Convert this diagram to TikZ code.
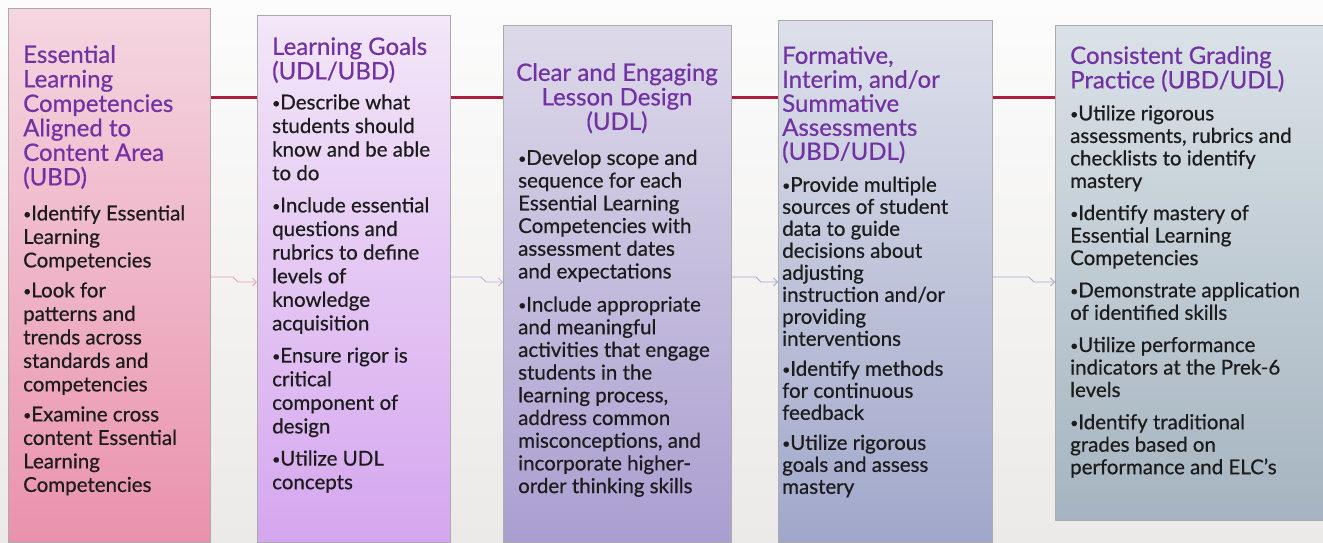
\documentclass[tikz,border=0pt]{standalone}
\usepackage{fontspec}
\setmainfont{Lato}[UprightFeatures={FakeBold=0.6}]
\usetikzlibrary{arrows.meta, positioning}

\definecolor{bgtop}{HTML}{FCFCFC}
\definecolor{bgbottom}{HTML}{ECEAE8}
\definecolor{panelline}{HTML}{ABABAB}
\definecolor{joinred}{HTML}{A81E40}
\definecolor{headpurple}{HTML}{7232A4}
\definecolor{bodyink}{HTML}{1C1C1C}
\definecolor{arrowpink}{HTML}{E7A3B6}
\definecolor{arrowlilac}{HTML}{C3ACE4}
\definecolor{arrowviolet}{HTML}{ADA6D2}
\definecolor{arrowslate}{HTML}{A6AEC8}

\newcommand{\dotmark}{\raisebox{1.5pt}{\fontsize{14}{14}\selectfont•}}

\begin{document}
\begin{tikzpicture}[
    x=1pt, y=-1pt,
    panel/.style={rectangle, draw=panelline, line width=0.8pt, anchor=north west, inner sep=0pt},
    head/.style={anchor=north west, align=left, inner sep=0pt, text=headpurple, font=\fontsize{24}{24.5}\selectfont},
    items/.style={anchor=north west, align=left, inner sep=0pt, text=bodyink, font=\fontsize{20.5}{23}\selectfont},
    joinline/.style={line width=3pt, draw=joinred},
    flow/.style={line width=0.8pt, -{Straight Barb[length=4pt, width=8pt]}}
]
\useasboundingbox (0,0) rectangle (1323,542);
\fill[top color=bgtop, bottom color=bgbottom] (0,0) rectangle (1323,542);
\clip (0,0) rectangle (1323,542);

% the five stages
\node (elc) [panel, minimum width=202pt, minimum height=534pt, top color={rgb,255:red,244;green,214;blue,225}, bottom color={rgb,255:red,234;green,146;blue,173}] at (8,8) {};
\node (goals) [panel, minimum width=193pt, minimum height=527pt, top color={rgb,255:red,243;green,231;blue,248}, bottom color={rgb,255:red,213;green,166;blue,239}] at (257,15) {};
\node (lesson) [panel, minimum width=228pt, minimum height=517pt, top color={rgb,255:red,221;green,217;blue,233}, bottom color={rgb,255:red,170;green,158;blue,208}] at (503,25) {};
\node (assess) [panel, minimum width=214pt, minimum height=522pt, top color={rgb,255:red,221;green,224;blue,234}, bottom color={rgb,255:red,160;green,167;blue,202}] at (778,20) {};
\node (grading) [panel, minimum width=280pt, minimum height=495pt, top color={rgb,255:red,218;green,226;blue,231}, bottom color={rgb,255:red,165;green,180;blue,192}] at (1055,25) {};

% headings
\node (elctitle) [head] at (23,45) {Essential\\Learning\\Competencies\\Aligned to\\Content Area\\(UBD)};
\node (goalstitle) [head] at (272,37) {Learning Goals\\(UDL/UBD)};
\node (lessontitle) [head, anchor=north, align=center] at (617,63) {Clear and Engaging\\Lesson Design\\(UDL)};
\node (assesstitle) [head, font=\fontsize{24}{24}\selectfont] at (782,46) {Formative,\\Interim, and/or\\Summative\\Assessments\\(UBD/UDL)};
\node (gradingtitle) [head] at (1070,46) {Consistent Grading\\Practice (UBD/UDL)};

% bullet lists
\node (elctext) [items, font=\fontsize{20.5}{23.5}\selectfont, below=16pt of elctitle.south west, anchor=north west] {%
\dotmark Identify Essential\\Learning\\Competencies\\[6.5pt]\dotmark Look for\\patterns and\\trends across\\standards and\\competencies\\[6.5pt]\dotmark Examine cross\\content Essential\\Learning\\Competencies};
\node (goalstext) [items, font=\fontsize{20.5}{23.6}\selectfont, below=11pt of goalstitle.south west, anchor=north west] {%
\dotmark Describe what\\students should\\know and be able\\to do\\[8.6pt]\dotmark Include essential\\questions and\\rubrics to define\\levels of\\knowledge\\acquisition\\[8.6pt]\dotmark Ensure rigor is\\critical\\component of\\design\\[8.6pt]\dotmark Utilize UDL\\concepts};
\node (lessontext) [items, font=\fontsize{20.5}{22.7}\selectfont, anchor=north west] at ([xshift=15pt, yshift=-16pt]lessontitle.south -| lesson.west) {%
\dotmark Develop scope and\\sequence for each\\Essential Learning\\Competencies with\\assessment dates\\and expectations\\[10.4pt]\dotmark Include appropriate\\and meaningful\\activities that engage\\students in the\\learning process,\\address common\\misconceptions, and\\incorporate higher-\\order thinking skills};
\node (assesstext) [items, font=\fontsize{20.5}{22}\selectfont, below=13pt of assesstitle.south west, anchor=north west] {%
\dotmark Provide multiple\\sources of student\\data to guide\\decisions about\\adjusting\\instruction and/or\\providing\\interventions\\[8pt]\dotmark Identify methods\\for continuous\\feedback\\[8pt]\dotmark Utilize rigorous\\goals and assess\\mastery};
\node (gradingtext) [items, font=\fontsize{20.5}{22.5}\selectfont, below=13pt of gradingtitle.south west, anchor=north west] {%
\dotmark Utilize rigorous\\assessments, rubrics and\\checklists to identify\\mastery\\[9.7pt]\dotmark Identify mastery of\\Essential Learning\\Competencies\\[9.7pt]\dotmark Demonstrate application\\of identified skills\\[9.7pt]\dotmark Utilize performance\\indicators at the Prek-6\\levels\\[9.7pt]\dotmark Identify traditional\\grades based on\\performance and ELC’s};

% red timeline behind the stages
\coordinate (redrow) at (0,97);
\draw [joinline] (elc.east |- redrow) -- (goals.west |- redrow);
\draw [joinline] (goals.east |- redrow) -- (lesson.west |- redrow);
\draw [joinline] (lesson.east |- redrow) -- (assess.west |- redrow);
\draw [joinline] (assess.east |- redrow) -- (grading.west |- redrow);

% small flow arrows
\coordinate (flowin) at (0,277);
\coordinate (flowout) at (0,282);
\draw [flow, arrowpink] (elc.east |- flowin) -- ([xshift=-24pt]goals.west |- flowin) -- ([xshift=-19pt]goals.west |- flowout) -- (goals.west |- flowout);
\draw [flow, arrowlilac] (goals.east |- flowin) -- ([xshift=-22pt]lesson.west |- flowin) -- ([xshift=-17pt]lesson.west |- flowout) -- (lesson.west |- flowout);
\draw [flow, arrowviolet] (lesson.east |- flowin) -- ([xshift=-22pt]assess.west |- flowin) -- ([xshift=-17pt]assess.west |- flowout) -- (assess.west |- flowout);
\draw [flow, arrowslate] (assess.east |- flowin) -- ([xshift=-26pt]grading.west |- flowin) -- ([xshift=-21pt]grading.west |- flowout) -- (grading.west |- flowout);
\end{tikzpicture}
\end{document}
